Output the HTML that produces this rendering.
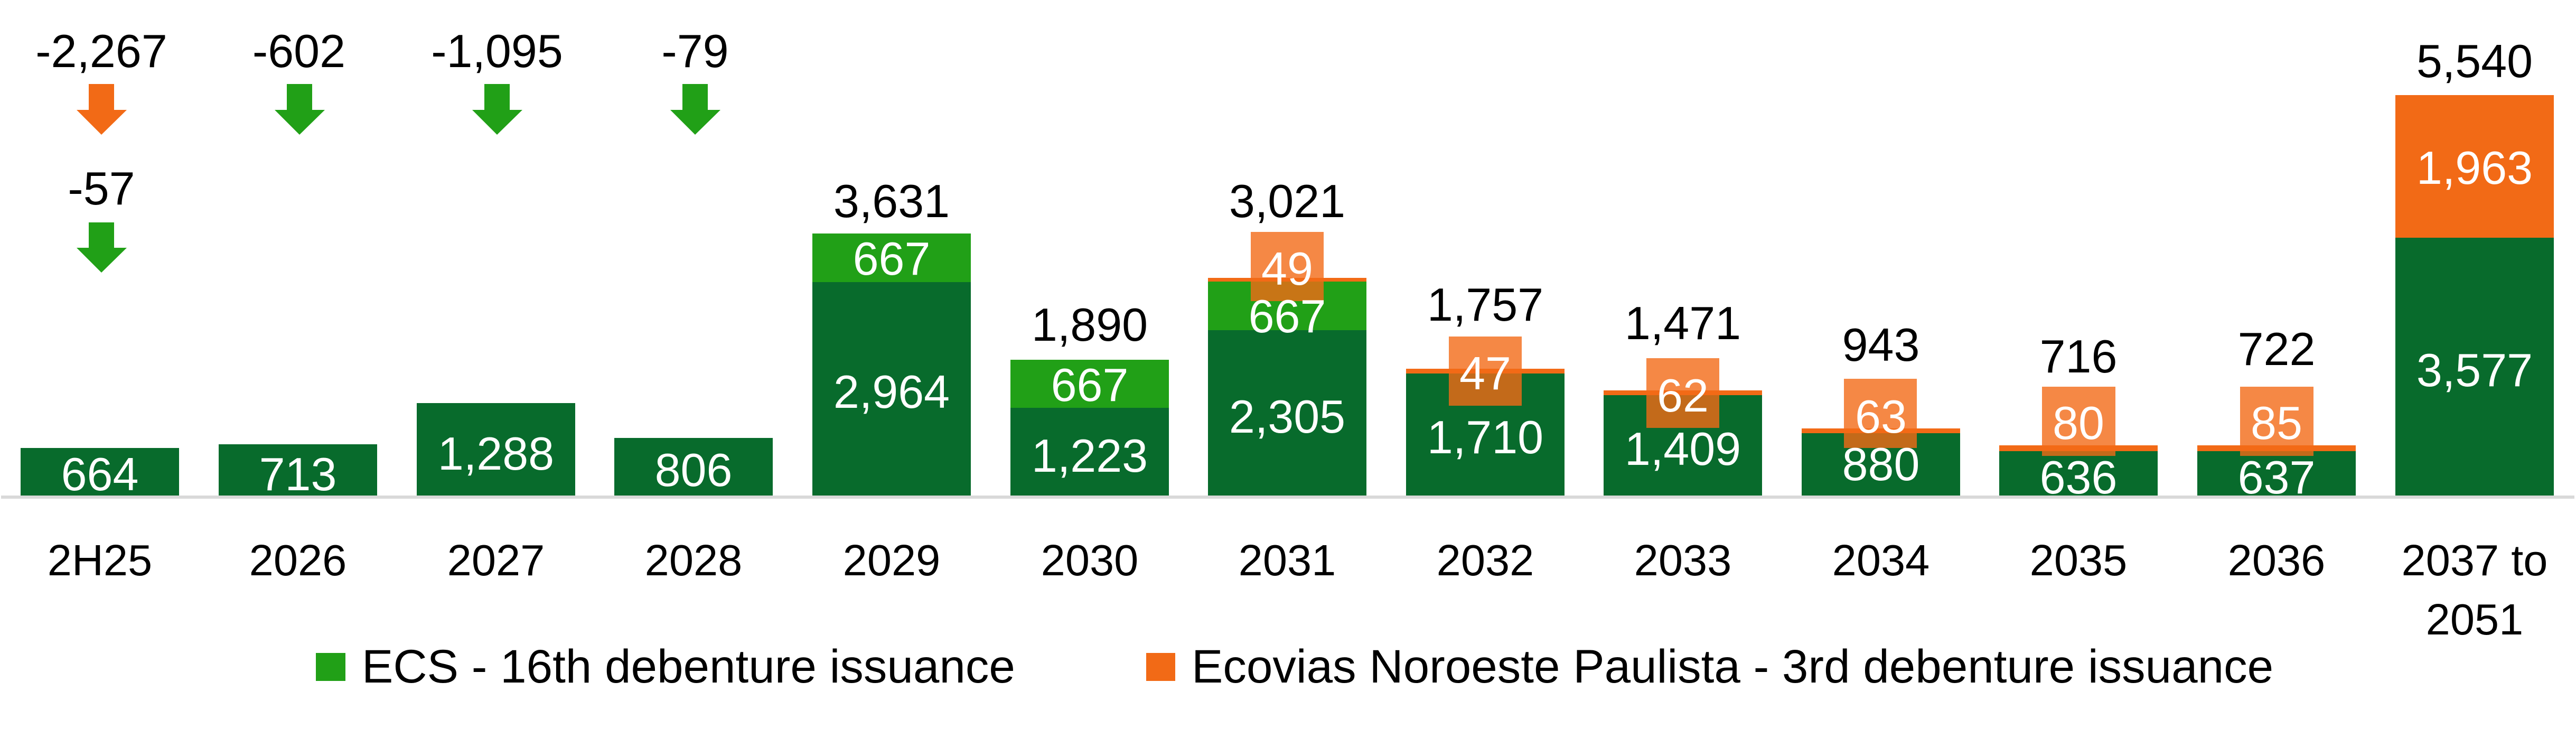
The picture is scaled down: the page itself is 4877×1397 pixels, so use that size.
<!DOCTYPE html>
<html><head><meta charset="utf-8"><style>
html,body{margin:0;padding:0;background:#fff;}
svg{display:block;}
text{font-family:"Liberation Sans",sans-serif;}
</style></head><body>
<svg width="4877" height="1397" viewBox="0 0 4877 1397" xmlns="http://www.w3.org/2000/svg">
<rect width="4877" height="1397" fill="#fff"/>
<rect x="2" y="938" width="4872" height="6" fill="#D9D9D9"/>

<g fill="#086B2C">
<rect x="39" y="848" width="300" height="90"/>
<rect x="414" y="841" width="300" height="97"/>
<rect x="789" y="763" width="300" height="175"/>
<rect x="1163" y="829" width="300" height="109"/>
<rect x="1538" y="534" width="300" height="404"/>
<rect x="1913" y="772" width="300" height="166"/>
<rect x="2287" y="625" width="300" height="313"/>
<rect x="2662" y="707" width="300" height="231"/>
<rect x="3036" y="748" width="300" height="190"/>
<rect x="3411" y="820" width="300" height="118"/>
<rect x="3785" y="854" width="300" height="84"/>
<rect x="4160" y="854" width="300" height="84"/>
<rect x="4535" y="450" width="300" height="488"/>
</g>
<g fill="#21A017">
<rect x="1538" y="442" width="300" height="92"/>
<rect x="1913" y="681" width="300" height="91"/>
<rect x="2287" y="532" width="300" height="93"/>
</g>
<g fill="#F26A16">
<rect x="2287" y="526" width="300" height="7"/>
<rect x="2662" y="698" width="300" height="9"/>
<rect x="3036" y="739" width="300" height="9"/>
<rect x="3411" y="811" width="300" height="9"/>
<rect x="3785" y="843" width="300" height="11"/>
<rect x="4160" y="843" width="300" height="11"/>
<rect x="4535" y="180" width="300" height="270"/>
</g>
<g fill="rgba(242,106,22,0.8)">
<rect x="2368" y="439" width="138" height="131"/>
<rect x="2743" y="637" width="138" height="131"/>
<rect x="3117" y="678" width="138" height="132"/>
<rect x="3491" y="717" width="138" height="131"/>
<rect x="3866" y="732" width="139" height="131"/>
<rect x="4241" y="732" width="139" height="131"/>
</g>

<g>
<path d="M168,159 H216 V208 H240 L192,255 L145,208 H168 Z" fill="#F26A16"/>
<path d="M168,421 H216 V469 H240 L192,516 L145,469 H168 Z" fill="#21A017"/>
<path d="M543,159 H591 V208 H615 L567,255 L520,208 H543 Z" fill="#21A017"/>
<path d="M917,159 H965 V208 H989 L941,255 L894,208 H917 Z" fill="#21A017"/>
<path d="M1292,159 H1340 V208 H1364 L1316,255 L1269,208 H1292 Z" fill="#21A017"/>
</g>

<g font-size="88" text-anchor="middle" fill="#000">
<text x="192" y="127">-2,267</text>
<text x="192" y="387">-57</text>
<text x="566" y="127">-602</text>
<text x="941" y="127">-1,095</text>
<text x="1316" y="127">-79</text>
<text x="1688" y="411">3,631</text>
<text x="2063" y="645">1,890</text>
<text x="2437" y="411">3,021</text>
<text x="2812" y="607">1,757</text>
<text x="3186" y="642">1,471</text>
<text x="3561" y="683">943</text>
<text x="3935" y="705">716</text>
<text x="4310" y="691">722</text>
<text x="4685" y="146">5,540</text>
</g>

<g font-size="88" text-anchor="middle" fill="#fff">
<text x="189" y="928">664</text>
<text x="564" y="928">713</text>
<text x="939" y="889">1,288</text>
<text x="1313" y="920">806</text>
<text x="1688" y="520">667</text>
<text x="1688" y="772">2,964</text>
<text x="2063" y="759">667</text>
<text x="2063" y="893">1,223</text>
<text x="2437" y="629">667</text>
<text x="2437" y="819">2,305</text>
<text x="2437" y="539">49</text>
<text x="2812" y="737">47</text>
<text x="2812" y="858">1,710</text>
<text x="3186" y="779">62</text>
<text x="3186" y="880">1,409</text>
<text x="3561" y="819">63</text>
<text x="3561" y="909">880</text>
<text x="3935" y="831">80</text>
<text x="3935" y="934">636</text>
<text x="4310" y="831">85</text>
<text x="4310" y="934">637</text>
<text x="4685" y="348">1,963</text>
<text x="4685" y="731">3,577</text>
</g>

<g font-size="83" text-anchor="middle" fill="#000">
<text x="189" y="1089">2H25</text>
<text x="564" y="1089">2026</text>
<text x="939" y="1089">2027</text>
<text x="1313" y="1089">2028</text>
<text x="1688" y="1089">2029</text>
<text x="2063" y="1089">2030</text>
<text x="2437" y="1089">2031</text>
<text x="2812" y="1089">2032</text>
<text x="3186" y="1089">2033</text>
<text x="3561" y="1089">2034</text>
<text x="3935" y="1089">2035</text>
<text x="4310" y="1089">2036</text>
<text x="4685" y="1089">2037 to</text>
<text x="4685" y="1201">2051</text>
</g>

<rect x="598" y="1236" width="56" height="53" fill="#21A017"/>
<text x="685" y="1292" font-size="89" fill="#000">ECS - 16th debenture issuance</text>
<rect x="2170" y="1236" width="55" height="53" fill="#F26A16"/>
<text x="2256" y="1292" font-size="89" fill="#000">Ecovias Noroeste Paulista - 3rd debenture issuance</text>
</svg>
</body></html>
